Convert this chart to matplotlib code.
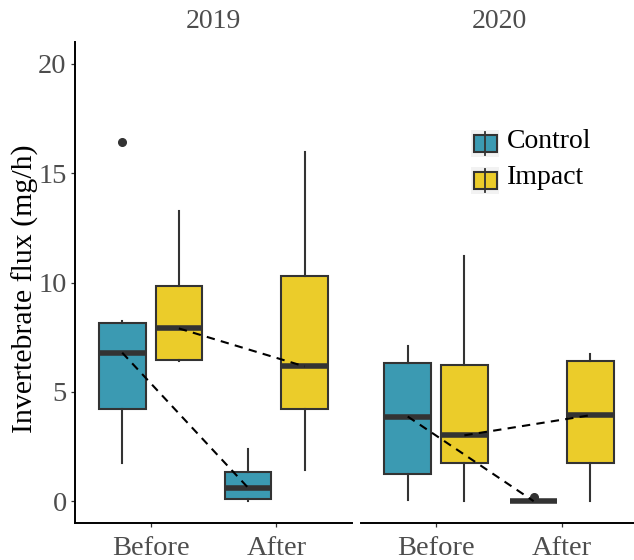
import matplotlib
matplotlib.use("Agg")
import matplotlib.pyplot as plt
from matplotlib.patches import Rectangle
from matplotlib.lines import Line2D

plt.rcParams['font.family'] = ['Liberation Serif', 'DejaVu Serif']

# ---- data -------------------------------------------------------------
years = ["2019", "2020"]
periods = ["Before", "After"]
groups = ["Control", "Impact"]
colors = {"Control": "#3B9AB2", "Impact": "#EBCC2A"}

# five-number summaries: [lower whisker, Q1, median, Q3, upper whisker]
summary = {
    ("2019", "Control", "Before"): [1.75, 4.23, 6.79, 8.17, 8.25],
    ("2019", "Control", "After"):  [0.01, 0.12, 0.61, 1.31, 2.39],
    ("2019", "Impact", "Before"):  [6.39, 6.47, 7.90, 9.83, 13.29],
    ("2019", "Impact", "After"):   [1.42, 4.20, 6.16, 10.32, 15.98],
    ("2020", "Control", "Before"): [0.05, 1.25, 3.87, 6.33, 7.08],
    ("2020", "Control", "After"):  [0.00, 0.00, 0.00, 0.00, 0.00],
    ("2020", "Impact", "Before"):  [0.01, 1.75, 3.01, 6.21, 11.23],
    ("2020", "Impact", "After"):   [0.01, 1.75, 3.93, 6.41, 6.74],
}
outliers = {
    ("2019", "Control", "Before"): [16.44],
    ("2020", "Control", "After"): [0.20],
}
y_ticks = [0, 5, 10, 15, 20]

# ---- layout -------------------------------------------------------------
W, H = 634, 560
fig = plt.figure(figsize=(W / 100, H / 100), dpi=100)
bottom = (H - 523) / H
height = (523 - 42) / H
pw = 277 / W
ax1 = fig.add_axes([75 / W, bottom, pw, height])
ax2 = fig.add_axes([360.5 / W, bottom, pw, height])

edge = "#333333"
dodge = {"Control": -0.225, "Impact": 0.225}
box_w = 0.37
tick_size = 20.5

for ax, year in zip([ax1, ax2], years):
    for g in groups:
        stats, pos = [], []
        for i, p in enumerate(periods):
            lw_, q1, med, q3, hw = summary[(year, g, p)]
            stats.append(dict(whislo=lw_, q1=q1, med=med, q3=q3, whishi=hw,
                              fliers=outliers.get((year, g, p), [])))
            pos.append(i + 1 + dodge[g])
        ax.bxp(stats, positions=pos, widths=box_w, patch_artist=True,
               showcaps=False,
               boxprops=dict(facecolor=colors[g], edgecolor=edge, linewidth=1.5),
               whiskerprops=dict(color=edge, linewidth=1.5),
               medianprops=dict(color=edge, linewidth=4, solid_capstyle="butt"),
               flierprops=dict(marker="o", markersize=5.5, markerfacecolor=edge,
                               markeredgecolor=edge))
    # dashed lines joining medians between periods
    for g in groups:
        xs = [i + 1 + dodge[g] for i in range(len(periods))]
        ys = [summary[(year, g, p)][2] for p in periods]
        ax.plot(xs, ys, color="black", linewidth=1.5, linestyle=(0, (4, 3)),
                zorder=5)

    ax.set_xlim(0.4, 2.6)
    ax.set_ylim(-1, 21)
    ax.set_xticks([1, 2])
    ax.set_xticklabels(periods)
    ax.set_yticks(y_ticks)
    ax.set_yticklabels([str(v) for v in y_ticks])
    for s in ["top", "right"]:
        ax.spines[s].set_visible(False)
    for s in ["left", "bottom"]:
        ax.spines[s].set_linewidth(1.4)
        ax.spines[s].set_color("black")
    ax.tick_params(axis="both", length=3, width=0.9, color="#333333",
                   labelsize=tick_size, labelcolor="#4D4D4D", pad=3)
    ax.tick_params(axis="x", pad=6.5)
    ax.patch.set_visible(False)
    cx = (ax.get_position().x0 + ax.get_position().x1) / 2
    fig.text(cx, 1 - 22 / H, year, ha="center", va="center",
             fontsize=20, color="#4D4D4D")

ax2.spines["left"].set_visible(False)
ax2.tick_params(axis="y", left=False, labelleft=False)

fig.text(25 / W, 1 - 289 / H, "Invertebrate flux (mg/h)", rotation=90,
         ha="center", va="center", fontsize=21.5, color="black")

# ---- legend -------------------------------------------------------------
def fx(px):
    return px / W


def fy(py):
    return 1 - py / H


for g, top in zip(groups, [130, 167]):
    fig.add_artist(Rectangle((fx(471), fy(top + 27)), 28 / W, 27 / H,
                             transform=fig.transFigure, facecolor="#F2F2F2",
                             edgecolor="none"))
    fig.add_artist(Line2D([fx(485), fx(485)], [fy(top + 25), fy(top + 2)],
                          transform=fig.transFigure, color=edge, linewidth=1.3))
    fig.add_artist(Rectangle((fx(473.5), fy(top + 22)), 23 / W, 17 / H,
                             transform=fig.transFigure, facecolor=colors[g],
                             edgecolor=edge, linewidth=1.5))
    fig.text(fx(507), fy(top + 11), g, ha="left", va="center", fontsize=20,
             color="black")

fig.savefig("out.png", dpi=100)
